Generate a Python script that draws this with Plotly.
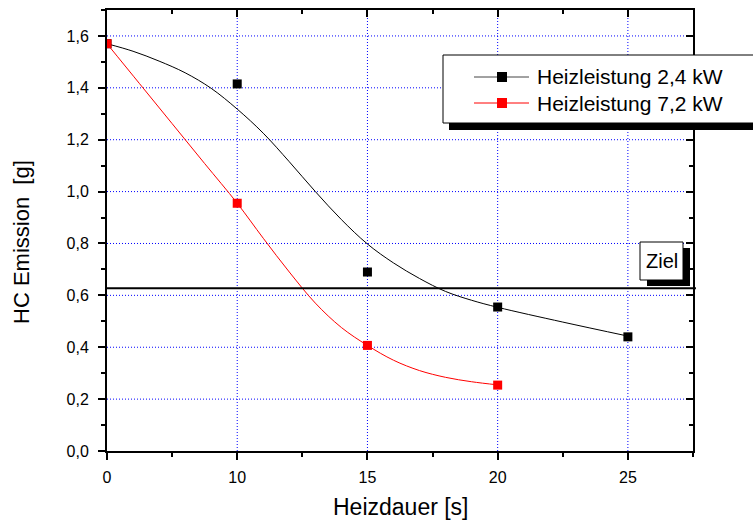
import plotly.graph_objects as go

# ---------------- data ----------------
heizdauer = [0, 10, 15, 20, 25]
tick_labels = ["0", "10", "15", "20", "25"]
hc_ticks = [0.2, 0.4, 0.6, 0.8, 1.0, 1.2, 1.4, 1.6]

# measured points
hc_24kw_x = [0, 10, 15, 20, 25]
hc_24kw_y = [1.57, 1.415, 0.69, 0.555, 0.44]
hc_72kw_x = [0, 10, 15, 20]
hc_72kw_y = [1.57, 0.955, 0.407, 0.254]

# fitted curves
fit_24kw_x = [0, 2, 4, 6, 8, 10, 11, 12, 13, 14, 15, 16, 17, 18, 19, 20, 22.5, 25]
fit_24kw_y = [1.57, 1.541, 1.503, 1.458, 1.398, 1.318, 1.225, 1.115, 1.0, 0.892, 0.798,
              0.725, 0.665, 0.615, 0.581, 0.554, 0.497, 0.443]
fit_72kw_x = [0, 2.5, 5, 7.5, 10, 11, 12, 13, 14, 15, 16, 17, 18, 19, 20]
fit_72kw_y = [1.57, 1.416, 1.262, 1.108, 0.955, 0.82, 0.69, 0.57, 0.476, 0.407, 0.35,
              0.31, 0.284, 0.267, 0.255]

ziel_value = 0.627

series_names = ["Heizleistung 2,4 kW", "Heizleistung 7,2 kW"]
series_colors = ["#000000", "#ff0000"]


# the x axis is broken: 0..10 s is drawn compressed into one 5 s interval
def axpos(v):
    return 5 + v / 2 if v <= 10 else v


def axpos_list(vals):
    return [axpos(v) for v in vals]


FONT = "Liberation Sans, Arial, sans-serif"
WIDTH, HEIGHT = 753, 522
ML, MR, MT, MB = 107, 60, 10, 71
PW = WIDTH - ML - MR
PH = HEIGHT - MT - MB


def PX(px):
    return (px - ML) / PW


def PY(py):
    return (MT + PH - py) / PH


fig = go.Figure()

# fitted lines
fig.add_trace(go.Scatter(x=axpos_list(fit_24kw_x), y=fit_24kw_y, mode="lines",
                         line=dict(color=series_colors[0], width=1, shape="spline", smoothing=1.0),
                         showlegend=False, hoverinfo="skip"))
fig.add_trace(go.Scatter(x=axpos_list(fit_72kw_x), y=fit_72kw_y, mode="lines",
                         line=dict(color=series_colors[1], width=1, shape="spline", smoothing=1.0),
                         showlegend=False, hoverinfo="skip"))
# points
fig.add_trace(go.Scatter(x=axpos_list(hc_24kw_x), y=hc_24kw_y, mode="markers",
                         marker=dict(symbol="square", size=9, color=series_colors[0]),
                         name=series_names[0], showlegend=False))
fig.add_trace(go.Scatter(x=axpos_list(hc_72kw_x), y=hc_72kw_y, mode="markers",
                         marker=dict(symbol="square", size=9, color=series_colors[1]),
                         name=series_names[1], showlegend=False))
# dummy trace for mirrored axes
fig.add_trace(go.Scatter(x=[None], y=[None], xaxis="x2", yaxis="y2", showlegend=False))

xr = [5, 27.5]
yr = [0, 1.7]
tickpos = axpos_list(heizdauer)

common_axis = dict(showline=True, linecolor="black", linewidth=2,
                   tickcolor="black", tickwidth=1.5, zeroline=False, showgrid=False,
                   tickfont=dict(family=FONT, size=16, color="black"))

fig.update_layout(
    width=WIDTH, height=HEIGHT,
    margin=dict(l=ML, r=MR, t=MT, b=MB),
    paper_bgcolor="white", plot_bgcolor="white",
    separators=", ",
    font=dict(family=FONT, color="black"),
    xaxis=dict(range=xr, tickmode="array", tickvals=tickpos, ticktext=tick_labels,
               ticks="outside", ticklen=7, ticklabelstandoff=4,
               minor=dict(ticks="outside", ticklen=4, tick0=5, dtick=2.5,
                          tickcolor="black", tickwidth=1.5, showgrid=False),
               **common_axis),
    yaxis=dict(range=yr, dtick=0.2, tick0=0, tickformat=".1f",
               ticks="outside", ticklen=7, ticklabelstandoff=6,
               minor=dict(ticks="outside", ticklen=4, dtick=0.1,
                          tickcolor="black", tickwidth=1.5, showgrid=False),
               **common_axis),
    xaxis2=dict(range=xr, overlaying="x", side="top", tickmode="array", tickvals=tickpos,
                ticks="inside", ticklen=7, showticklabels=False,
                minor=dict(ticks="inside", ticklen=4, tick0=5, dtick=2.5,
                           tickcolor="black", tickwidth=1.5, showgrid=False),
                **common_axis),
    yaxis2=dict(range=yr, overlaying="y", side="right", dtick=0.2, tick0=0,
                ticks="inside", ticklen=7, showticklabels=False,
                minor=dict(ticks="inside", ticklen=4, dtick=0.1,
                           tickcolor="black", tickwidth=1.5, showgrid=False),
                **common_axis),
    showlegend=False,
)

GRID = dict(color="#0000ff", width=1, dash="1px,2px")
shapes = []
# dotted blue grid
for t in tickpos[1:]:
    shapes.append(dict(type="line", xref="x", yref="paper", x0=t, x1=t, y0=0, y1=1,
                       line=GRID, layer="below"))
for v in hc_ticks:
    shapes.append(dict(type="line", xref="paper", yref="y", x0=0, x1=1, y0=v, y1=v,
                       line=GRID, layer="below"))
# target line
shapes.append(dict(type="line", xref="paper", yref="y", x0=0, x1=1.005,
                   y0=ziel_value, y1=ziel_value, line=dict(color="black", width=2)))
# Ziel box with shadow
shapes.append(dict(type="rect", xref="paper", yref="paper", x0=PX(647), x1=PX(690),
                   y0=PY(286), y1=PY(248), fillcolor="black", line=dict(width=0)))
shapes.append(dict(type="rect", xref="paper", yref="paper", x0=PX(640), x1=PX(683),
                   y0=PY(280), y1=PY(242), fillcolor="white",
                   line=dict(color="black", width=1)))
# legend box with shadow
shapes.append(dict(type="rect", xref="paper", yref="paper", x0=PX(449), x1=PX(770),
                   y0=PY(130), y1=PY(61), fillcolor="black", line=dict(width=0)))
shapes.append(dict(type="rect", xref="paper", yref="paper", x0=PX(443), x1=PX(770),
                   y0=PY(123), y1=PY(55), fillcolor="white",
                   line=dict(color="black", width=1)))
legend_rows = [77, 103]
legend_line_colors = ["#444444", "#ff0000"]
for i, ry in enumerate(legend_rows):
    shapes.append(dict(type="line", xref="paper", yref="paper", x0=PX(474), x1=PX(529),
                       y0=PY(ry), y1=PY(ry), line=dict(color=legend_line_colors[i], width=1)))
    shapes.append(dict(type="rect", xref="paper", yref="paper", x0=PX(497), x1=PX(507),
                       y0=PY(ry + 5), y1=PY(ry - 5), fillcolor=series_colors[i],
                       line=dict(width=0)))
fig.update_layout(shapes=shapes)

annotations = []
for i, ry in enumerate(legend_rows):
    annotations.append(dict(xref="paper", yref="paper", x=PX(535), y=PY(ry),
                            xanchor="left", yanchor="middle", text=series_names[i],
                            showarrow=False, font=dict(family=FONT, size=21, color="black")))
annotations.append(dict(xref="paper", yref="paper", x=PX(661.5), y=PY(261),
                        xanchor="center", yanchor="middle", text="Ziel",
                        showarrow=False, font=dict(family=FONT, size=20, color="black")))
annotations.append(dict(xref="paper", yref="paper", x=PX(401), y=PY(507),
                        xanchor="center", yanchor="middle", text="Heizdauer [s]",
                        showarrow=False, font=dict(family=FONT, size=23, color="black")))
annotations.append(dict(xref="paper", yref="paper", x=PX(21), y=PY(242),
                        xanchor="center", yanchor="middle", text="HC Emission  [g]",
                        textangle=-90, showarrow=False,
                        font=dict(family=FONT, size=22, color="black")))
fig.update_layout(annotations=annotations)

fig.write_html("out.html", config={"displayModeBar": False},
               post_script="document.body.style.margin='0';document.body.style.overflow='hidden';")
